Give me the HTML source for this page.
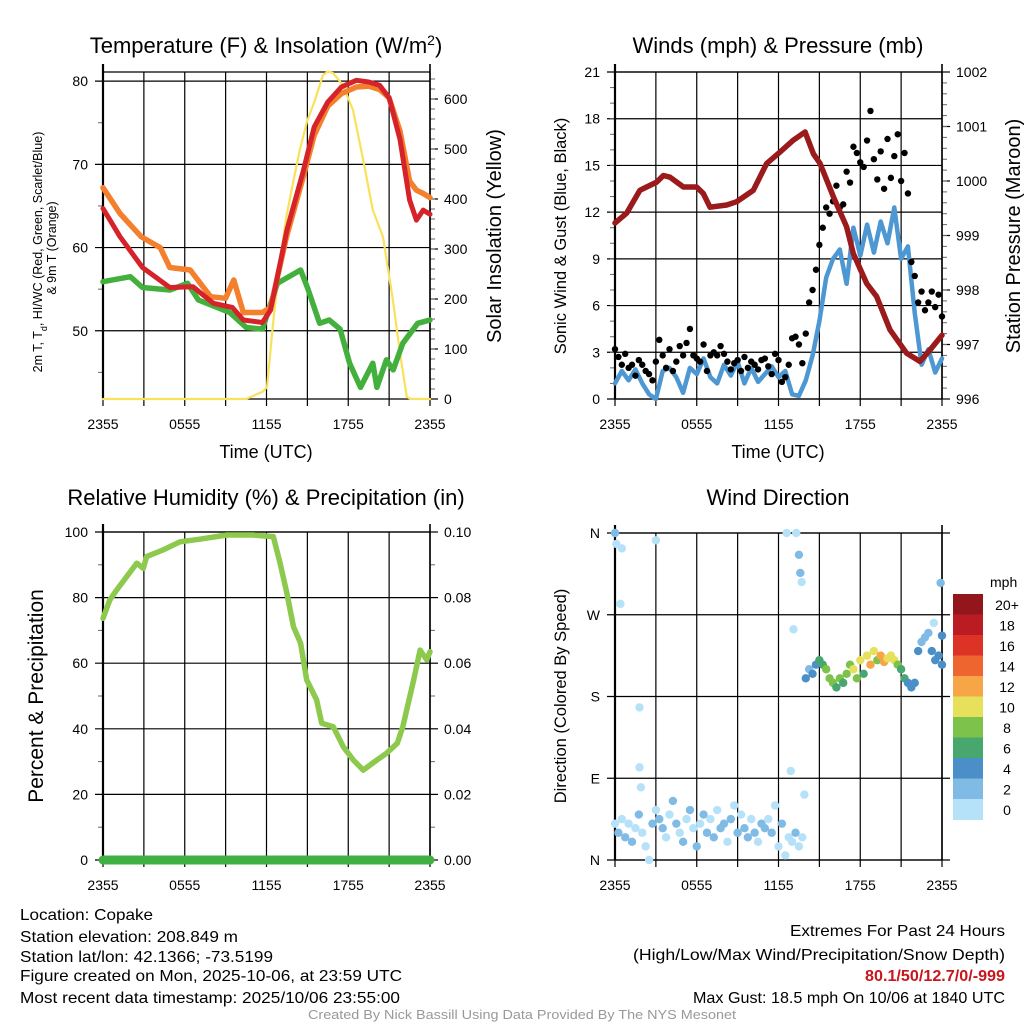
<!DOCTYPE html>
<html><head><meta charset="utf-8">
<style>
html,body{margin:0;padding:0;background:#fff;}
svg{display:block;font-family:"Liberation Sans",Arial,sans-serif;}
</style></head>
<body>
<svg id="chart" width="1024" height="1024" viewBox="0 0 1024 1024" xmlns="http://www.w3.org/2000/svg">
<g id="layer"></g>
<text x="266" y="53" font-size="22" text-anchor="middle">Temperature (F) &amp; Insolation (W/m<tspan baseline-shift="super" font-size="14">2</tspan>)</text>
<text x="778" y="53" font-size="22" text-anchor="middle">Winds (mph) &amp; Pressure (mb)</text>
<text x="266" y="505" font-size="22" text-anchor="middle">Relative Humidity (%) &amp; Precipitation (in)</text>
<text x="778" y="505" font-size="22" text-anchor="middle">Wind Direction</text>
<text x="266" y="458" font-size="18" text-anchor="middle">Time (UTC)</text>
<text x="778" y="458" font-size="18" text-anchor="middle">Time (UTC)</text>
<text transform="translate(42,252) rotate(-90)" font-size="12.5" text-anchor="middle">2m T, T<tspan font-size="9" baseline-shift="sub">d</tspan>, HI/WC (Red, Green, Scarlet/Blue)</text>
<text transform="translate(56,248) rotate(-90)" font-size="12.5" text-anchor="middle">&amp; 9m T (Orange)</text>
<text transform="translate(501,236) rotate(-90)" font-size="20" text-anchor="middle">Solar Insolation (Yellow)</text>
<text transform="translate(566,236) rotate(-90)" font-size="16.5" text-anchor="middle">Sonic Wind &amp; Gust (Blue, Black)</text>
<text transform="translate(1020,236) rotate(-90)" font-size="20" text-anchor="middle">Station Pressure (Maroon)</text>
<text transform="translate(43,696) rotate(-90)" font-size="21" text-anchor="middle">Percent &amp; Precipitation</text>
<text transform="translate(566,696) rotate(-90)" font-size="16.5" text-anchor="middle">Direction (Colored By Speed)</text>
<g font-size="16" lengthAdjust="spacingAndGlyphs">
<text x="20" y="920" textLength="133" lengthAdjust="spacingAndGlyphs">Location: Copake</text>
<text x="20" y="942" textLength="218" lengthAdjust="spacingAndGlyphs">Station elevation: 208.849 m</text>
<text x="20" y="962" textLength="253" lengthAdjust="spacingAndGlyphs">Station lat/lon: 42.1366; -73.5199</text>
<text x="20" y="981" textLength="382" lengthAdjust="spacingAndGlyphs">Figure created on Mon, 2025-10-06, at 23:59 UTC</text>
<text x="20" y="1003" textLength="380" lengthAdjust="spacingAndGlyphs">Most recent data timestamp: 2025/10/06 23:55:00</text>
</g>
<g font-size="16">
<text x="790" y="936" textLength="215" lengthAdjust="spacingAndGlyphs">Extremes For Past 24 Hours</text>
<text x="633" y="960" textLength="372" lengthAdjust="spacingAndGlyphs">(High/Low/Max Wind/Precipitation/Snow Depth)</text>
<text x="865" y="981" textLength="140" lengthAdjust="spacingAndGlyphs" fill="#c8161d" font-weight="bold">80.1/50/12.7/0/-999</text>
<text x="693" y="1003" textLength="312" lengthAdjust="spacingAndGlyphs">Max Gust: 18.5 mph On 10/06 at 1840 UTC</text>
</g>
<text x="308" y="1019" font-size="12.5" fill="#999" textLength="428" lengthAdjust="spacingAndGlyphs">Created By Nick Bassill Using Data Provided By The NYS Mesonet</text>
</svg>
<script>
// ---- data ----
const timeTicks = ['2355','0555','1155','1755','2355'];
const tempHours = [0,1.25,2.9,4.9,6.6,8.1,9.5,10.3,11.7,12.3,13.5,14.7,15.5,16.5,17.5,18.6,19.5,20.3,21,21.8,22.5,23,23.5,24];
const tempRed = [64.7,61.3,57.6,55.2,55.3,53.3,52.8,51.3,51,52.5,62.1,69.2,74.5,77.5,79.3,80.1,79.9,79.5,78,73,65.7,63.3,64.5,64];
const temp9mHours = [0,1.25,2.8,4.2,4.9,6.4,7.9,9,9.6,10.3,11.7,12.3,13.5,14.7,15.5,16.5,17.5,18.6,19.5,20.3,21,21.8,22.5,23,23.5,24];
const temp9m = [67.2,64.1,61.3,60,57.6,57.3,54.1,53.9,56.1,52.2,52.2,52.8,61.5,68.5,73.5,77,78.5,79.3,79.4,79,78,74,68,66.9,66.5,66];
const dewHours = [0,2,2.9,4.9,6.2,7,9.3,10.5,11.7,12.8,14.5,15,15.9,16.6,17.4,18.1,18.9,19.8,20.1,20.8,21.3,22,23.1,24];
const dewPoint = [55.9,56.5,55.2,54.9,55.7,53.7,52.2,50.4,50.2,55.7,57.3,55.2,50.9,51.3,50.2,46.1,43.2,46.1,43.2,46.5,45.3,48.5,50.9,51.3];
const solarHours = [0,10.5,11.74,12.04,12.48,13,13.5,14,14.46,14.97,15.56,16.15,16.5,16.88,17.6,18.35,19.1,19.8,20.55,21.28,21.8,22.3,22.6,24];
const solar = [0,0,15,24,150,280,370,440,500,555,598,648,655,652,628,578,478,378,324,198,92,4,0,0];
const presHours = [0,0.85,1.83,2.32,3.06,3.55,4.04,5.02,5.99,6.48,6.97,8.2,8.93,10.15,11.13,12.11,13.09,13.95,14.56,15.05,16.03,17,17.49,18.47,19.2,20.18,21.4,22.38,23.12,24];
const pressure = [999.23,999.41,999.83,999.89,999.98,1000.1,1000.07,999.89,999.89,999.77,999.52,999.56,999.62,999.83,1000.32,1000.53,1000.75,1000.9,1000.5,1000.32,999.71,999.16,998.67,998.12,997.88,997.27,996.84,996.69,996.9,997.17];
const windSpeed = [1.0,1.8,1.2,1.9,1.0,0.3,0.0,1.8,2.0,1.4,0.4,2.0,1.6,2.6,1.4,1.0,2.2,1.5,2.4,1.0,2.0,1.1,1.6,2.1,1.4,1.8,0.3,0.2,1.2,2.8,5.0,7.8,9.0,9.6,7.4,11.0,9.2,11.2,9.4,11.4,10.0,12.3,9.0,9.8,5.5,2.2,3.2,1.7,2.6];
const gust = [3.2,2.7,2.2,2.9,2.0,2.2,1.5,2.5,2.2,1.8,1.6,1.2,
2.4,3.8,2.8,2.0,3.2,1.8,2.4,3.4,2.8,3.6,4.5,2.8,
2.6,2.4,3.5,1.8,2.8,3.0,2.8,3.4,2.9,2.4,1.9,2.3,
2.5,1.8,2.7,2.0,2.4,2.2,1.9,2.5,2.6,2.1,1.6,2.9,
2.5,1.1,1.4,2.2,3.9,4.0,3.5,2.3,4.2,6.2,7.0,8.3,
9.9,11.0,12.3,11.9,12.7,13.7,12.3,12.5,14.6,13.9,16.2,15.8,
15.2,14.9,16.6,18.5,15.4,14.1,15.9,13.5,16.7,14.2,15.6,17.0,
14.0,15.8,13.2,8.8,7.9,6.2,6.9,5.7,6.2,6.9,5.9,6.7,5.3];
const rhHours = [0,0.5,1,1.74,2.48,2.96,3.2,4.4,5.65,7.1,9.08,11,12.5,13,13.5,13.98,14.5,14.95,15.68,16.05,16.9,17.64,18.37,19.1,20.1,20.8,21.6,22,22.8,23.27,23.76,24];
const rh = [73.7,79.3,82.3,86.4,90.5,88.9,92.5,94.5,97,97.8,99.1,99.1,98.6,90.5,81.3,71.1,66.1,54.9,48.8,41.7,40.6,34.5,30.5,27.4,30.5,32.5,35.6,40.6,54.9,64,61,63.5];
const precip = [0,0];
const precipHours = [0,24];
const dirHours = [0,0.25,0.5,0.75,1,1.25,1.5,1.75,2,2.25,2.5,2.75,3,3.25,3.5,3.75,4,4.25,4.5,4.75,5,5.25,5.5,5.75,6,6.25,6.5,6.75,7,7.25,7.5,7.75,8,8.25,8.5,8.75,9,9.25,9.5,9.75,10,10.25,10.5,10.75,11,11.25,11.5,11.75,12,12.25,12.5,12.75,13,13.25,13.5,13.75,
0,0.1,0.5,0.4,1.8,1.8,1.9,3,12.6,13.3,13.5,13.6,13.7,13.1,12.9,13.9,
14,14.25,14.5,14.75,15,15.25,15.5,15.75,16,16.25,16.5,16.75,17,17.25,17.5,17.75,18,18.25,18.5,18.75,19,19.25,19.5,19.75,20,20.25,20.5,20.75,21,21.25,21.5,21.75,22,22.25,22.5,22.75,23,23.25,23.5,23.75,24,23.9,23.4,24];
const dirDeg = [40,30,45,25,40,20,35,50,30,15,0,40,55,45,35,25,50,65,40,30,20,45,55,35,15,40,50,30,45,25,55,35,40,20,45,60,30,50,35,25,45,30,20,40,35,45,30,60,15,40,5,25,20,30,15,25,
360,348,343,282,168,102,80,352,360,360,336,316,306,254,98,72,
200,210,205,215,220,215,210,200,195,190,200,195,205,215,210,200,220,205,225,215,230,220,225,218,222,225,220,215,210,200,195,190,195,230,240,245,250,230,220,225,215,305,261,247];
const dirSpeed = [1.5,3,1,2.5,1.5,3,1,2.5,1.5,1,0.5,3,1,2.5,3,1.5,1,2.5,3,1,2.5,0.5,3,1.5,2.5,1,3,2.5,1,3,1.5,2.5,3,1,2.5,1.5,3,1,2.5,3,1.5,2.5,1,3,2.5,1,3,1.5,1,3,0.5,1.5,1,2.5,1,1.5,
3,1,1,1,1,1,1,1,1,1,3,3,1,1,1,1,
4,3,4,5,7,6,8,8,8,7,8,6,9,8,10,9,10,7,11,13,10,9,12,13,10,11,10,9,7,6,5,4,4,4,3,2,2,4,4,5,4,3,1,4];
const speedLabels = ['0','2','4','6','8','10','12','14','16','18','20+'];
const speedColors = ['#b5e2f8','#7fbbe4','#4b8fc8','#48a66f','#7cc24b','#e7e05b','#f6a647','#ee652f','#dd3327','#bb1c23','#92161a'];

// ---- helpers ----
const NS='http://www.w3.org/2000/svg';
const layer=document.getElementById('layer');
function mk(tag,attrs,parent){const e=document.createElementNS(NS,tag);for(const k in attrs)e.setAttribute(k,attrs[k]);(parent||layer).appendChild(e);return e;}
function txt(x,y,s,size,anchor,parent){const t=mk('text',{x:x,y:y,'font-size':size,'text-anchor':anchor},parent);t.textContent=s;return t;}
function scale(d0,d1,r0,r1){return v=>r0+(v-d0)/(d1-d0)*(r1-r0);}

function panel(name,x0,x1,y0,y1,left,right,gridExt){
  const g=mk('g',{});
  
  
  const sx=scale(0,24,x0,x1);
  for(let h=0;h<=24;h+=3){
    const x=sx(h);
    mk('line',{x1:x,y1:y0,x2:x,y2:y1+7,stroke:'#000','stroke-width':1.2},g);
  }
  timeTicks.forEach((s,i)=>{const t=txt(sx(i*6),y1+30,s,14,'middle',g);});
  const sy=scale(left.min,left.max,y1,y0);
  left.ticks.forEach((v,i)=>{
    const y=sy(v);
    mk('line',{x1:x0-8,y1:y,x2:gridExt||x1,y2:y,stroke:'#000','stroke-width':1.2},g);
    const t=txt(x0-15,y+5,left.labels[i],14,'end',g);
    
    
  });
  (left.minor||[]).forEach(v=>{const y=sy(v);mk('line',{x1:x0-5,y1:y,x2:x0,y2:y,stroke:'#666','stroke-width':1},g);});
  if(right){
    const ry=scale(right.min,right.max,y1,y0);
    right.ticks.forEach((v,i)=>{
      const y=ry(v);
      mk('line',{x1:x1,y1:y,x2:x1+8,y2:y,stroke:'#000','stroke-width':1.2},g);
      const t=txt(x1+14,y+5,right.labels[i],14,'start',g);
      
      
    });
    (right.minor||[]).forEach(v=>{const y=ry(v);mk('line',{x1:x1,y1:y,x2:x1+5,y2:y,stroke:'#666','stroke-width':1},g);});
  }
  mk('line',{x1:x0,y1:y0,x2:x1,y2:y0,stroke:'#000','stroke-width':1.2},g);
  mk('line',{x1:x0,y1:y1,x2:x1,y2:y1,stroke:'#000','stroke-width':1.2},g);
  mk('line',{x1:x0,y1:y0-8,x2:x0,y2:y1,stroke:'#000','stroke-width':2.2},g);
  mk('line',{x1:x1,y1:y0-8,x2:x1,y2:y1,stroke:'#000','stroke-width':1.6},g);
  return sx;
}
function line(name,xs,ys,sx,sy,color,w){
  const p=xs.map((h,i)=>sx(h).toFixed(1)+','+sy(ys[i]).toFixed(1)).join(' ');
  const e=mk('polyline',{points:p,fill:'none',stroke:color,'stroke-width':w,'stroke-linejoin':'round','stroke-linecap':'round'});
  
  
  return e;
}
function range(a,b,s){const r=[];for(let v=a;v<=b+1e-9;v+=s)r.push(+v.toFixed(4));return r;}

// ---- panel 1 ----
{
  const sx=panel('temperature',103,430,72,399,{min:41.8,max:81.1,ticks:[50,60,70,80],labels:['50','60','70','80'],minor:[45,55,65,75]},{min:0,max:654,ticks:[0,100,200,300,400,500,600],labels:['0','100','200','300','400','500','600'],minor:range(20,640,20)});
  const sy=scale(41.8,81.1,399,72), sr=scale(0,654,399,72);
  line('solar-insolation-line',solarHours,solar,sx,sr,'#f9e15a',2.2);
  line('dewpoint-line',dewHours,dewPoint,sx,sy,'#43b03e',5.5);
  line('temp-9m-line',temp9mHours,temp9m,sx,sy,'#f47f2c',5.5);
  line('temp-2m-line',tempHours,tempRed,sx,sy,'#d6232a',5);
}
// ---- panel 2 ----
{
  const sx=panel('winds',615,942,72,399,{min:0,max:21,ticks:[0,3,6,9,12,15,18,21],labels:['0','3','6','9','12','15','18','21'],minor:range(1,20,1)},{min:996,max:1002,ticks:[996,997,998,999,1000,1001,1002],labels:['996','997','998','999','1000','1001','1002'],minor:range(996.2,1001.8,0.2)});
  const sy=scale(0,21,399,72), sp=scale(996,1002,399,72);
  const wh=windSpeed.map((v,i)=>i*0.5);
  line('sustained-wind-line',wh,windSpeed,sx,sy,'#4d97d3',4.5);
  gust.forEach((v,i)=>{
    const c=mk('circle',{cx:sx(i*0.25),cy:sy(v),r:3.2,fill:'#000'});
    
    
  });
  line('pressure-line',presHours,pressure,sx,sp,'#9b1a1c',5.5);
}
// ---- panel 3 ----
{
  const sx=panel('humidity',103,430,532,860,{min:0,max:100,ticks:[0,20,40,60,80,100],labels:['0','20','40','60','80','100'],minor:[10,30,50,70,90]},{min:0,max:0.1,ticks:[0,0.02,0.04,0.06,0.08,0.1],labels:['0.00','0.02','0.04','0.06','0.08','0.10'],minor:[0.01,0.03,0.05,0.07,0.09]});
  const sy=scale(0,100,860,532), spr=scale(0,0.1,860,532);
  line('relative-humidity-line',rhHours,rh,sx,sy,'#8dc94d',5.5);
  line('precipitation-line',precipHours,precip,sx,spr,'#40b044',9);
}
// ---- panel 4 ----
{
  const sx=panel('wind-direction',615,942,533,860,{min:0,max:360,ticks:[0,90,180,270,360],labels:['N','E','S','W','N']},null,950);
  const sy=scale(0,360,860,533);
  dirDeg.forEach((d,i)=>{
    const bin=Math.min(10,Math.floor(dirSpeed[i]/2));
    const c=mk('circle',{cx:sx(dirHours[i]),cy:sy(d),r:4.2,fill:speedColors[bin]});
    
    
  });
  const lg=mk('g',{});
  
  
  const t=txt(990,587,'mph',14,'start',lg);
  speedLabels.forEach((s,i)=>{
    const k=10-i;
    const y=594+i*20.5;
    const r=mk('rect',{x:953,y:y,width:30,height:21,fill:speedColors[k]},lg);
    
    
    const tt=txt(1007,y+16,speedLabels[k],14,'middle',lg);
    
    
  });
}
</script>
</body></html>
